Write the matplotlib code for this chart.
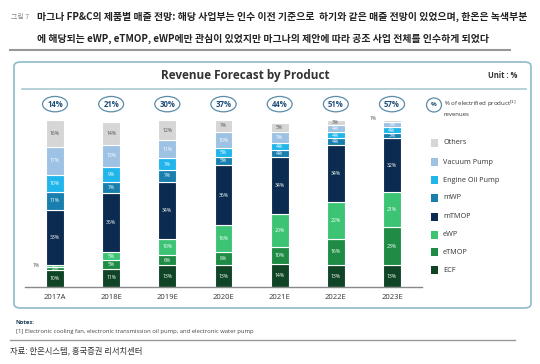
import matplotlib
matplotlib.use("Agg")
import matplotlib.pyplot as plt
from matplotlib.patches import FancyBboxPatch, Rectangle, Ellipse
from matplotlib.lines import Line2D
import numpy as np

plt.rcParams['font.family'] = ['Open Sans', 'Noto Sans CJK KR', 'DejaVu Sans']

years = ["2017A", "2018E", "2019E", "2020E", "2021E", "2022E", "2023E"]
electrified = [14, 21, 30, 37, 44, 51, 57]
series_names = ["ECF", "eTMOP", "eWP", "mTMOP", "mWP", "Engine Oil Pump", "Vacuum Pump", "Others"]
ecf = [10, 11, 13, 13, 14, 13, 13]
etmop = [2, 5, 6, 8, 10, 16, 23]
ewp = [1, 5, 10, 16, 20, 22, 21]
mtmop = [33, 35, 34, 36, 34, 34, 32]
mwp = [11, 7, 7, 5, 4, 4, 3]
eop = [10, 9, 7, 5, 4, 4, 4]
vacuum = [17, 13, 11, 10, 7, 4, 3]
others = [16, 14, 12, 7, 5, 3, 1]
series = [ecf, etmop, ewp, mtmop, mwp, eop, vacuum, others]
colors = ["#0f4526", "#1e8c45", "#3cc474", "#0b2c50", "#197fae", "#20b6ec", "#9dc2e4", "#d6d6d6"]
label_colors = ["white"] * 7 + ["#555555"]

W, H = 540, 364
fig = plt.figure(figsize=(W / 100, H / 100), dpi=100)

def fx(x): return x / W
def fy(y): return 1 - y / H

# Header
fig.text(fx(11), fy(17), "그림 7", fontsize=5, color="#888888", va="center", family=['Noto Sans CJK KR'])
fig.text(fx(37), fy(17), "마그나 FP&C의 제품별 매출 전망: 해당 사업부는 인수 이전 기준으로  하기와 같은 매출 전망이 있었으며, 한온은 녹색부분",
         fontsize=7.1, fontweight="bold", color="#222222", va="center", family=['Noto Sans CJK KR'])
fig.text(fx(37), fy(39), "에 해당되는 eWP, eTMOP, eWP에만 관심이 있었지만 마그나의 제안에 따라 공조 사업 전체를 인수하게 되었다",
         fontsize=7.1, fontweight="bold", color="#222222", va="center", family=['Noto Sans CJK KR'])
fig.add_artist(Line2D([fx(10), fx(510)], [fy(50), fy(50)], color="#999999", lw=1.5))

# Chart frame
box = FancyBboxPatch((fx(14), fy(308)), fx(517), (308 - 62) / H,
                     boxstyle="round,pad=0,rounding_size=0.012", transform=fig.transFigure,
                     facecolor="none", edgecolor="#8dbcc8", lw=1.2, zorder=-1)
fig.add_artist(box)
fig.text(fx(245), fy(76), "Revenue Forecast by Product", fontsize=8.5, fontweight="bold",
         color="#333333", ha="center", va="center")
fig.text(fx(517), fy(76), "Unit : %", fontsize=5.5, fontweight="bold", color="#333333", ha="right", va="center")
fig.add_artist(Line2D([fx(22), fx(526)], [fy(89), fy(89)], color="#a9c9d2", lw=1.2))

# Bars
ax = fig.add_axes([fx(25), fy(287), fx(397), 167 / H])
ax.patch.set_alpha(0)
x = np.arange(len(years))
bottom = np.zeros(len(years))
for vals, col, lc in zip(series, colors, label_colors):
    vals = np.array(vals, dtype=float)
    ax.bar(x, vals, bottom=bottom, width=0.32, color=col, edgecolor="white", linewidth=0.8)
    for i, v in enumerate(vals):
        cy = bottom[i] + v / 2
        if v >= 2:
            ax.text(x[i], cy, f"{int(v)}%", fontsize=3.7, color=lc, ha="center", va="center")
        else:
            ax.text(x[i] - 0.27, cy + (1.5 if col == colors[-1] else 0.5), f"{int(v)}%",
                    fontsize=3.7, color="#555555", ha="right", va="center")
    bottom += vals
ax.set_xlim(-0.534, 6.534)
ax.set_ylim(0, 100)
for s in ["top", "right", "left"]:
    ax.spines[s].set_visible(False)
ax.spines["bottom"].set_color("#888888")
ax.spines["bottom"].set_linewidth(1.0)
ax.set_yticks([])
ax.set_xticks(x)
ax.set_xticklabels(years, fontsize=5.5, color="#333333")
ax.tick_params(axis="x", length=0, pad=5)

# Electrified ovals
for i, e in enumerate(electrified):
    ax.text(x[i], 109.5, f"{e}%", fontsize=5.6, fontweight="bold", color="#1f4e79",
            ha="center", va="center", clip_on=False,
            bbox=dict(boxstyle="ellipse,pad=0.12", facecolor="white", edgecolor="#5a8ca8", lw=0.9))

# Legend
lx = 431
ell = Ellipse((fx(434), fy(105)), 15 / W, 14 / H, transform=fig.transFigure,
              facecolor="white", edgecolor="#5a8ca8", lw=0.9)
fig.add_artist(ell)
fig.text(fx(434), fy(105), "%", fontsize=4.5, color="#1f4e79", ha="center", va="center", fontweight="bold")
fig.text(fx(444), fy(104), "% of electrified product$^{[1]}$", fontsize=4.3, color="#333333", va="center")
fig.text(fx(444), fy(114), "revenues", fontsize=4.3, color="#333333", va="center")
legend_order = ["Others", "Vacuum Pump", "Engine Oil Pump", "mWP", "mTMOP", "eWP", "eTMOP", "ECF"]
legend_y = [143, 162, 180, 198, 217, 235, 252, 270]
for name, yy in zip(legend_order, legend_y):
    col = colors[series_names.index(name)]
    fig.add_artist(Rectangle((fx(lx), fy(yy + 4)), 7 / W, 8 / H, transform=fig.transFigure,
                             facecolor=col, edgecolor="none"))
    fig.text(fx(443), fy(yy), name, fontsize=5.2, color="#333333", va="center")

# Notes
fig.text(fx(16), fy(322), "Notes:", fontsize=4.2, fontweight="bold", color="#1f3d5a", va="center")
fig.text(fx(16), fy(331), "[1] Electronic cooling fan, electronic transmission oil pump, and electronic water pump",
         fontsize=4.2, color="#444444", va="center")
fig.add_artist(Line2D([fx(10), fx(515)], [fy(340), fy(340)], color="#999999", lw=1.0))
fig.text(fx(10), fy(351), "자료: 한온시스템, 흥국증권 리서치센터", fontsize=6, color="#333333", va="center",
         family=['Noto Sans CJK KR'])

fig.savefig("out.png", dpi=100)
